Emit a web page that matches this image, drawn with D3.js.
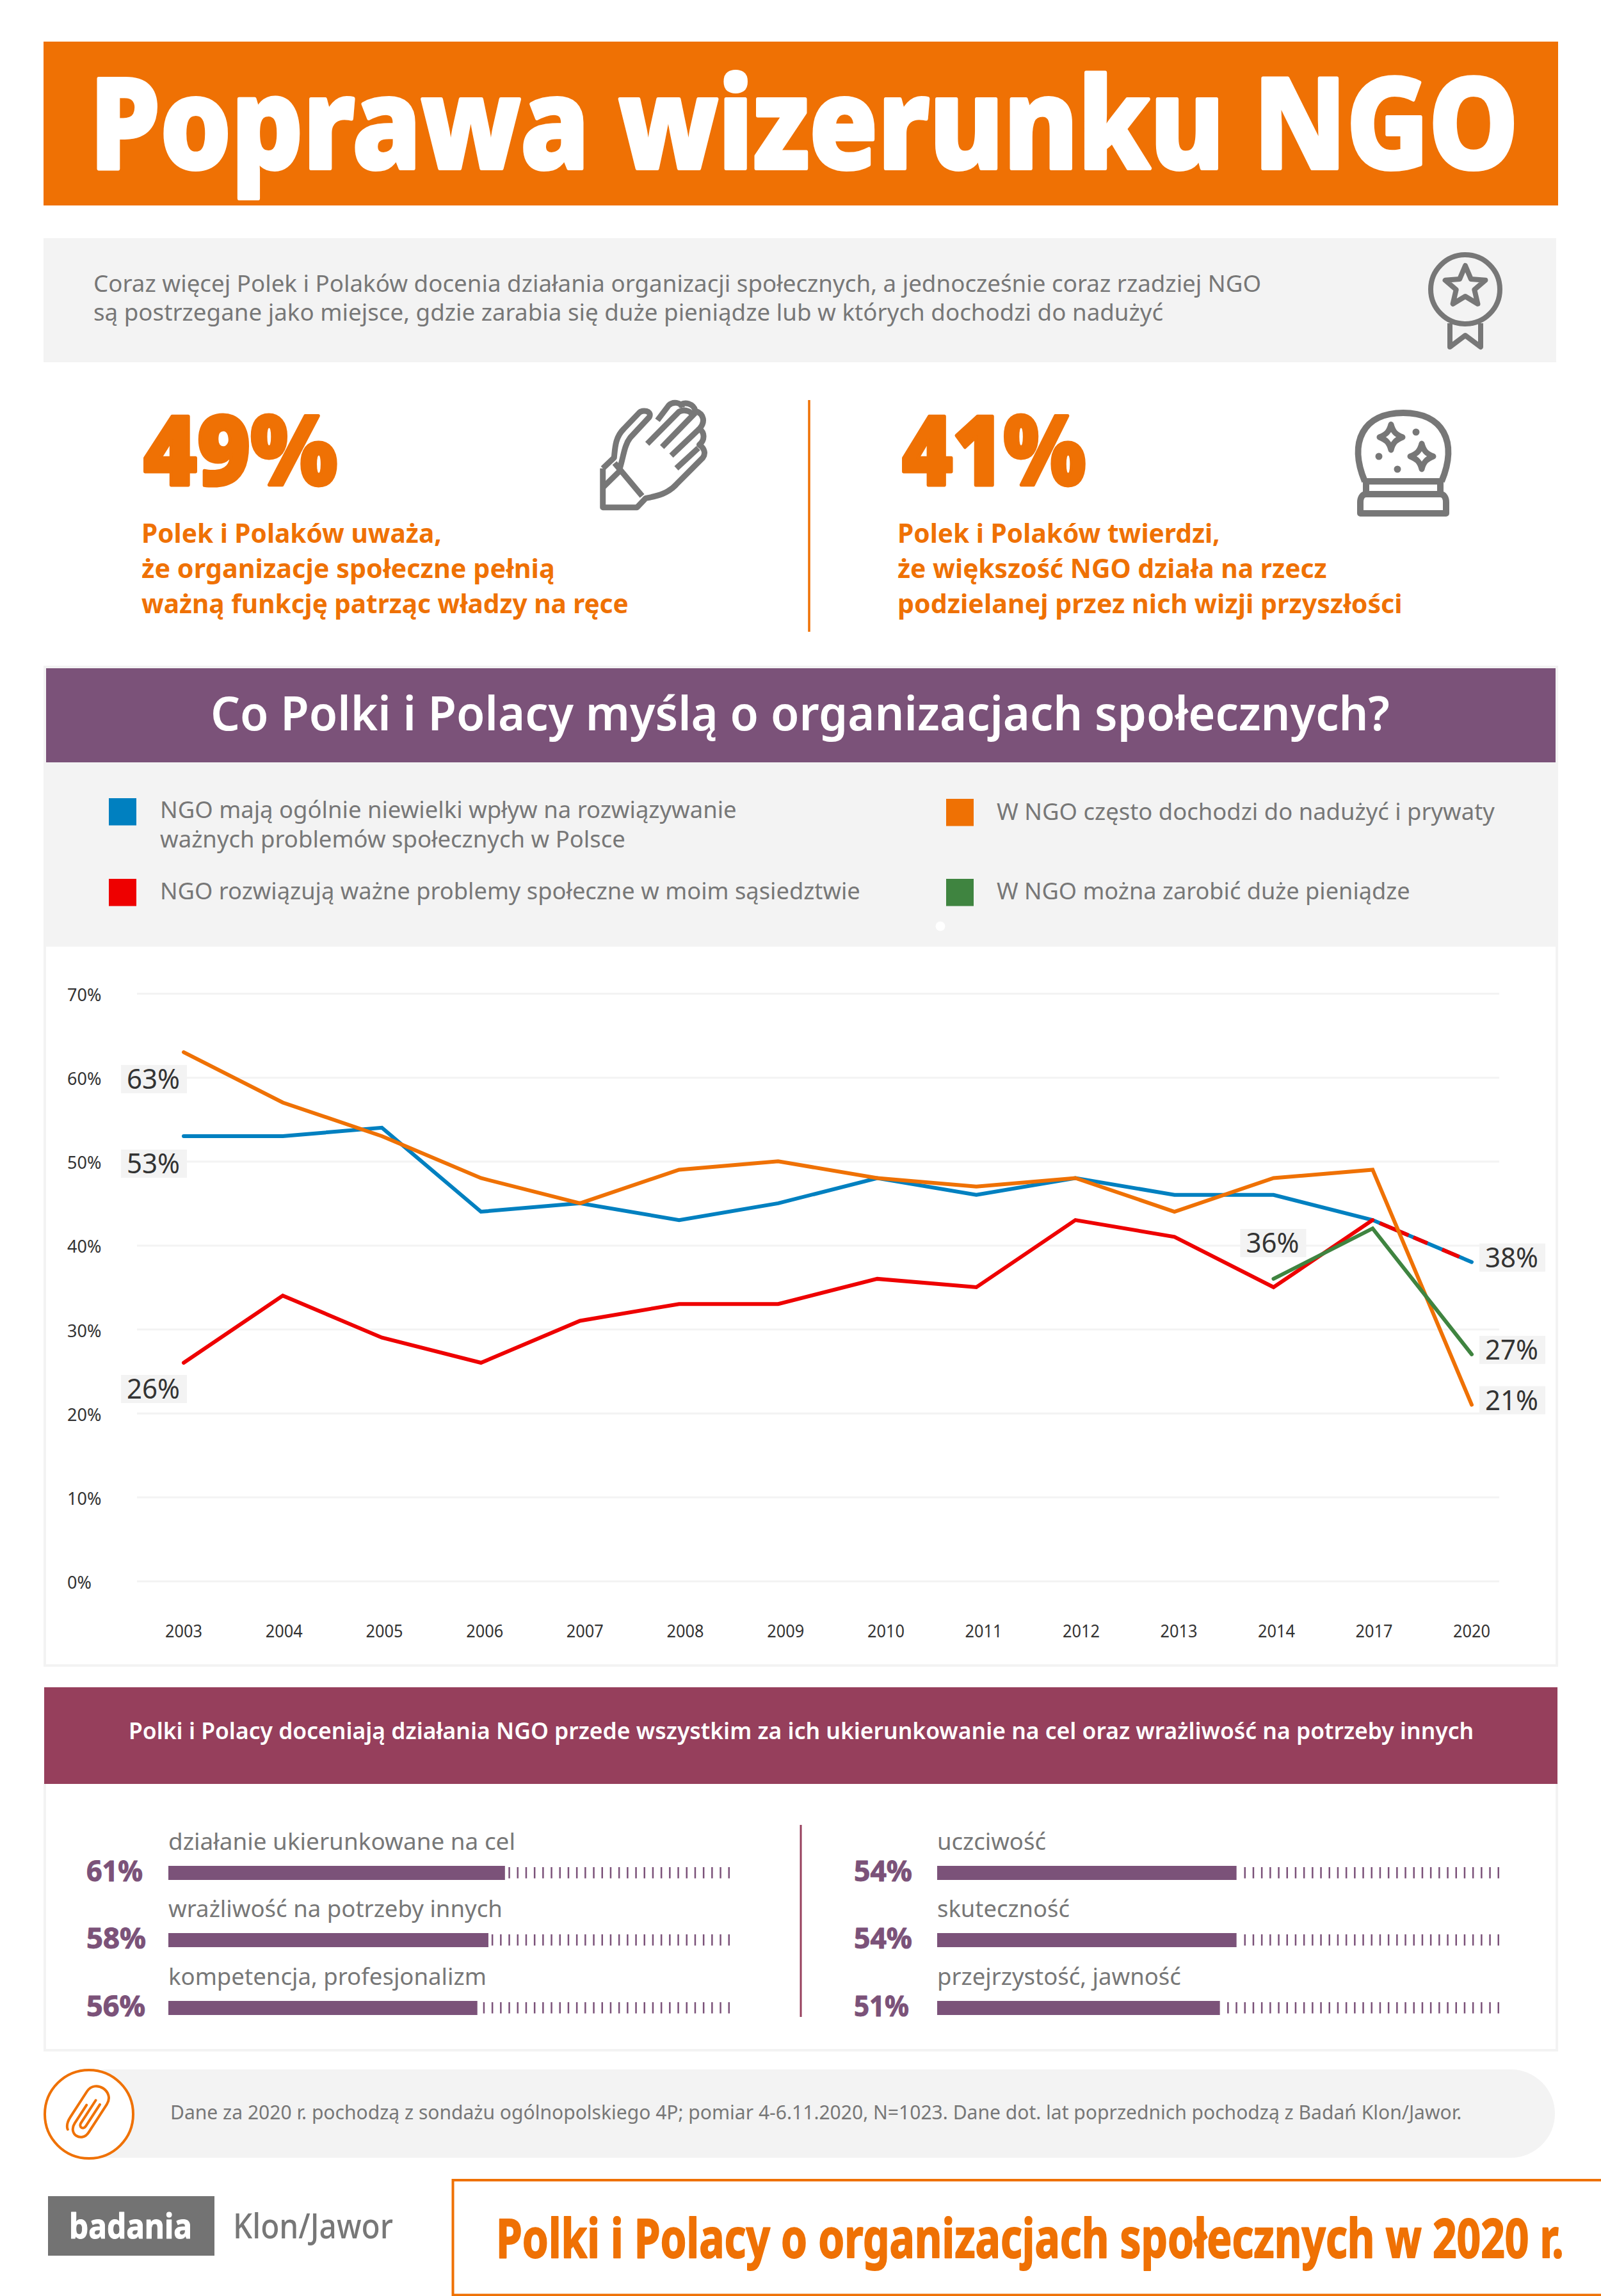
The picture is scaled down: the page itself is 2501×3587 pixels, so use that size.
<!DOCTYPE html>
<html lang="pl">
<head>
<meta charset="utf-8">
<title>Poprawa wizerunku NGO</title>
<script src="https://cdn.jsdelivr.net/npm/d3@7/dist/d3.min.js"></script>
<style>
html,body{margin:0;padding:0;background:#fff}
svg{display:block}
text{font-family:"Noto Sans","Open Sans",sans-serif}
</style>
</head>
<body>
<svg id="chart" width="2501" height="3587" viewBox="0 0 2501 3587"></svg>
<script>
// ---------- data ----------
const years = ["2003","2004","2005","2006","2007","2008","2009","2010","2011","2012","2013","2014","2017","2020"];
const yTicks = [0,10,20,30,40,50,60,70];
const influenceLow = [53,53,54,44,45,43,45,48,46,48,46,46,43,38];
const abuse        = [63,57,53,48,45,49,50,48,47,48,44,48,49,21];
const neighbourhood= [26,34,29,26,31,33,33,36,35,43,41,35,43,38];
const bigMoney     = [null,null,null,null,null,null,null,null,null,null,null,36,42,27];
const legendNames = [
  ["NGO mają ogólnie niewielki wpływ na rozwiązywanie","ważnych problemów społecznych w Polsce"],
  ["NGO rozwiązują ważne problemy społeczne w moim sąsiedztwie"],
  ["W NGO często dochodzi do nadużyć i prywaty"],
  ["W NGO można zarobić duże pieniądze"]
];
const traitsLeft = ["działanie ukierunkowane na cel","wrażliwość na potrzeby innych","kompetencja, profesjonalizm"];
const traitValuesLeft = [61,58,56];
const traitsRight = ["uczciwość","skuteczność","przejrzystość, jawność"];
const traitValuesRight = [54,54,51];

// ---------- palette ----------
const ORANGE="#ef7104", PURPLE="#7b5279", WINE="#963f5c", GREY="#777777", PANEL="#f3f3f3",
      BLUE="#0080c0", RED="#ee0000", GREEN="#3f8440", INK="#333333";

const svg = d3.select("#chart");
svg.append("rect").attr("width",2501).attr("height",3587).attr("fill","#fff");

// text squeezed horizontally to a measured width; `heavy` thickens glyphs past the font's own bold
function label(x, y, s, size, weight, fill, width, heavy){
  const t = svg.append("text").attr("font-size",size)
    .attr("font-weight",weight).attr("fill",fill).text(s);
  const sx = width ? width / t.node().getComputedTextLength() : 1;
  t.attr("transform",`translate(${x},${y}) scale(${sx.toFixed(4)},1)`);
  if(heavy){ t.attr("stroke",fill).attr("stroke-width",heavy).attr("stroke-linejoin","round"); }
  return t;
}
function box(x0,y0,x1,y1,fill){
  return svg.append("rect").attr("x",x0).attr("y",y0).attr("width",x1-x0).attr("height",y1-y0).attr("fill",fill);
}

// ---------- header ----------
box(68,65,2434,321,ORANGE);
label(140,263,"Poprawa wizerunku NGO",196,800,"#fff",2232,6);
box(68,372,2431,566,PANEL);
label(146,456,"Coraz więcej Polek i Polaków docenia działania organizacji społecznych, a jednocześnie coraz rzadziej NGO",36,400,GREY,1825);
label(146,501,"są postrzegane jako miejsce, gdzie zarabia się duże pieniądze lub w których dochodzi do nadużyć",36,400,GREY,1672);

// medal icon
const medal = svg.append("g").attr("fill","none").attr("stroke",GREY).attr("stroke-width",8).attr("stroke-linejoin","round");
medal.append("circle").attr("cx",2289).attr("cy",452).attr("r",54);
medal.append("path").attr("d",d3.range(10).map(i=>{
  const r=i%2?15:33,a=-Math.PI/2+i*Math.PI/5;
  return (i?"L":"M")+(2289+r*Math.cos(a)).toFixed(1)+" "+(448+r*Math.sin(a)).toFixed(1);
}).join("")+"Z");
medal.append("path").attr("d","M2265 505V542L2289 524L2313 542V505");

// ---------- two key figures ----------
label(224,758,"49%",150,900,ORANGE,303,5);
label(1409,758,"41%",150,900,ORANGE,287,5);
label(221,848,"Polek i Polaków uważa,",42,700,ORANGE,469);
label(221,903,"że organizacje społeczne pełnią",42,700,ORANGE,646);
label(221,958,"ważną funkcję patrząc władzy na ręce",42,700,ORANGE,761);
label(1402,848,"Polek i Polaków twierdzi,",42,700,ORANGE,504);
label(1402,903,"że większość NGO działa na rzecz",42,700,ORANGE,671);
label(1402,958,"podzielanej przez nich wizji przyszłości",42,700,ORANGE,789);
svg.append("line").attr("x1",1264).attr("x2",1264).attr("y1",625).attr("y2",987).attr("stroke",ORANGE).attr("stroke-width",3.5);

// hand icon
const hand = svg.append("g").attr("transform","translate(0,600) scale(.7974,.3333)").attr("fill","none");
["M1181 395V578H1248L1265 535C1290 525 1310 510 1325 470L1377 345C1383 325 1380 300 1370 285C1382 260 1380 225 1370 210C1382 180 1380 140 1362 125C1360 95 1340 75 1330 105",
 "M1181 395L1203 345C1205 300 1205 250 1222 210L1252 135C1258 118 1278 125 1272 155L1235 250C1222 290 1222 340 1213 405",
 "M1204 370L1258 525","M1181 485L1213 410",
 "M1288 170L1310 100C1318 80 1335 85 1336 110","M1268 280L1330 130C1340 115 1360 130 1352 150","M1297 295L1362 135","M1315 335L1370 210","M1325 395L1368 300"
].forEach(d=>hand.append("path").attr("d",d).attr("stroke",GREY).attr("stroke-width",9)
  .attr("vector-effect","non-scaling-stroke").attr("stroke-linejoin","round"));

// crystal ball icon
const ball = svg.append("g").attr("fill","none").attr("stroke",GREY).attr("stroke-width",10).attr("stroke-linejoin","round");
ball.append("path").attr("d","M2132 752C2106 690 2130 645 2192 645C2254 645 2278 690 2252 752");
ball.append("path").attr("d","M2134 752H2250V772H2134Z");
ball.append("path").attr("d","M2134 772H2250C2256 772 2259 778 2259 785V802H2125V785C2125 778 2128 772 2134 772Z");
const sparkle=(cx,cy)=>`M${cx} ${cy-20}C${cx+3} ${cy-8} ${cx+8} ${cy-4} ${cx+18} ${cy}C${cx+8} ${cy+4} ${cx+3} ${cy+8} ${cx} ${cy+20}C${cx-3} ${cy+8} ${cx-8} ${cy+4} ${cx-18} ${cy}C${cx-8} ${cy-4} ${cx-3} ${cy-8} ${cx} ${cy-20}Z`;
ball.append("path").attr("d",sparkle(2173,683)).attr("stroke-width",9);
ball.append("path").attr("d",sparkle(2221,713)).attr("stroke-width",9);
[[2212,675],[2154,713],[2183,733]].forEach(d=>ball.append("circle").attr("cx",d[0]).attr("cy",d[1]).attr("r",5.5).attr("fill",GREY).attr("stroke","none"));

// ---------- chart panel ----------
box(68,1040,2434,2604,PANEL);
box(72,1479,2430,2600,"#fff");
box(72,1044,2430,1191,PURPLE);
label(329,1141,"Co Polki i Polacy myślą o organizacjach społecznych?",74,600,"#fff",1842);

// legend
const legendColours=[BLUE,RED,ORANGE,GREEN];
const legendSwatch=[[170,1247],[170,1373],[1478,1248],[1478,1373]];
const legendText=[[250,[1278,1324],[901,727]],[250,[1405],[1094]],[1557,[1281],[778]],[1557,[1405],[646]]];
legendNames.forEach((lines,i)=>{
  box(legendSwatch[i][0],legendSwatch[i][1],legendSwatch[i][0]+43,legendSwatch[i][1]+42.5,legendColours[i]);
  lines.forEach((s,j)=>label(legendText[i][0],legendText[i][1][j],s,36,400,GREY,legendText[i][2][j]));
});
svg.append("circle").attr("cx",1469).attr("cy",1447).attr("r",7.5).attr("fill","#fff");

// scales
const x = d3.scalePoint().domain(years).range([287,2299]);
const y = d3.scaleLinear().domain([0,70]).range([2470,1552]);
const line = d3.line().defined(d=>d!==null).x((d,i)=>x(years[i])).y(d=>y(d));

// grid and axes
const grid = svg.append("g").attr("transform","translate(214,0)")
  .call(d3.axisRight(y).tickValues(yTicks).tickSize(2128).tickFormat(""));
grid.select(".domain").remove();
grid.selectAll("text").remove();
grid.selectAll("line").attr("stroke",PANEL).attr("stroke-width",3);

const yAxis = svg.append("g").attr("transform","translate(105,0)")
  .call(d3.axisLeft(y).tickValues(yTicks).tickSize(0).tickPadding(0).tickFormat(d=>d+"%"));
yAxis.select(".domain").remove();
yAxis.selectAll("text").attr("text-anchor","start").attr("x",0).attr("dy","0.72em").attr("y",-8)
  .attr("font-size",27).attr("fill",INK).style("font-family",'"Noto Sans",sans-serif');

// the printed year labels drift a little from the plotted points
const xLabel = d3.scaleLinear().domain([0,7,13]).range([287,1384,2299]);
const xAxisG = svg.append("g").attr("transform","translate(0,2558)");
xAxisG.selectAll("text").data(years).join("text")
  .attr("x",(d,i)=>xLabel(i)).attr("text-anchor","middle").attr("font-size",27).attr("fill",INK)
  .attr("textLength",58).attr("lengthAdjust","spacingAndGlyphs").text(d=>d);

// lines
const LINE_W = 6;
function drawLine(values,colour){
  return svg.append("path").datum(values).attr("d",line).attr("fill","none")
    .attr("stroke",colour).attr("stroke-width",LINE_W).attr("stroke-linejoin","miter").attr("stroke-linecap","round");
}
drawLine(influenceLow,BLUE);
drawLine(neighbourhood.map((d,i)=>i<13?d:null),RED);
// red and blue coincide on the last stretch, and alternate in the picture
svg.append("path")
  .attr("d",d3.line().x(d=>x(d[0])).y(d=>y(d[1]))([[years[12],neighbourhood[12]],[years[13],neighbourhood[13]]]))
  .attr("fill","none").attr("stroke",RED).attr("stroke-width",LINE_W).attr("stroke-dasharray","0 12 49 8 24 25 29 22");
drawLine(abuse,ORANGE);
drawLine(bigMoney,GREEN);

// value labels
const valueLabels=[
  {year:"2003",value:abuse[0],dx:-98,dy:20},
  {year:"2003",value:influenceLow[0],dx:-98,dy:21},
  {year:"2003",value:neighbourhood[0],dx:-98,dy:19},
  {year:"2014",value:bigMoney[11],dx:-52,dy:-78},
  {year:"2020",value:influenceLow[13],dx:12,dy:-29},
  {year:"2020",value:bigMoney[13],dx:12,dy:-29},
  {year:"2020",value:abuse[13],dx:12,dy:-29}
];
valueLabels.forEach(l=>{
  const px=x(l.year)+l.dx, py=y(l.value)+l.dy;
  svg.append("rect").attr("x",px).attr("y",py).attr("width",103).attr("height",44).attr("fill",PANEL);
  svg.append("text").attr("x",px+9).attr("y",py+37).attr("font-size",44).attr("fill",INK)
    .attr("textLength",83).attr("lengthAdjust","spacingAndGlyphs").text(l.value+"%");
});

// ---------- traits ----------
box(68,2785,2434,3205,PANEL);
box(72,2787,2430,3201,"#fff");
box(69,2636,2433,2787,WINE);
label(201,2717,"Polki i Polacy doceniają działania NGO przede wszystkim za ich ukierunkowanie na cel oraz wrażliwość na potrzeby innych",36,600,"#fff",2102);
svg.append("line").attr("x1",1251).attr("x2",1251).attr("y1",2851).attr("y2",3151).attr("stroke",WINE).attr("stroke-width",3);

function traitColumn(names,values,opt){
  const bx=d3.scaleLinear().domain([0,100]).range([opt.x,opt.x+opt.per100]);
  const rowY=[2915,3020,3126];
  names.forEach((n,i)=>{
    const end=bx(values[i]);
    label(opt.x,rowY[i]-25,n,36,400,GREY,opt.nameW[i]);
    label(opt.vx,rowY[i]+24,values[i]+"%",44,700,PURPLE,opt.valW[i],1);
    box(opt.x,rowY[i],end,rowY[i]+22,PURPLE);
    const ticks=d3.range(opt.tickEnd,end+6,-13.2);
    svg.append("g").selectAll("rect").data(ticks).join("rect")
      .attr("x",d=>d-2.5).attr("y",rowY[i]+2).attr("width",2.5).attr("height",17.5).attr("fill",PURPLE);
  });
}
traitColumn(traitsLeft,traitValuesLeft,{x:263,per100:862,tickEnd:1140,vx:135,nameW:[542,522,497],valW:[88,93,92]});
traitColumn(traitsRight,traitValuesRight,{x:1464,per100:866,tickEnd:2342,vx:1334,nameW:[170,207,381],valW:[91,91,86]});

// ---------- footer ----------
svg.append("rect").attr("x",100).attr("y",3233).attr("width",2329).attr("height",138).attr("rx",69).attr("fill",PANEL);
svg.append("circle").attr("cx",139).attr("cy",3303).attr("r",69).attr("fill","#fff").attr("stroke",ORANGE).attr("stroke-width",4);
svg.append("path").attr("transform","translate(139,3303) rotate(33)")
  .attr("d","M-11 -10V24C-11 44 15 44 15 24V-28C15 -52 -22 -52 -22 -28V20C-22 34 -15 38 -15 38M-3 -24V18C-3 26 6 26 6 18V-22")
  .attr("fill","none").attr("stroke",ORANGE).attr("stroke-width",4).attr("stroke-linecap","round");
label(266,3311,"Dane za 2020 r. pochodzą z sondażu ogólnopolskiego 4P; pomiar 4-6.11.2020, N=1023. Dane dot. lat poprzednich pochodzą z Badań Klon/Jawor.",30,400,GREY,2018);

box(75,3431,335,3524,"#737373");
label(108,3497,"badania",54,700,"#fff",192,1);
label(364,3497,"Klon/Jawor",54,500,GREY,250);

svg.append("rect").attr("x",707.5).attr("y",3406).attr("width",1800).attr("height",179.5)
  .attr("fill","#fff").attr("stroke",ORANGE).attr("stroke-width",4);
label(775,3527,"Polki i Polacy o organizacjach społecznych w 2020 r.",84,700,ORANGE,1668,2);
</script>
</body>
</html>
